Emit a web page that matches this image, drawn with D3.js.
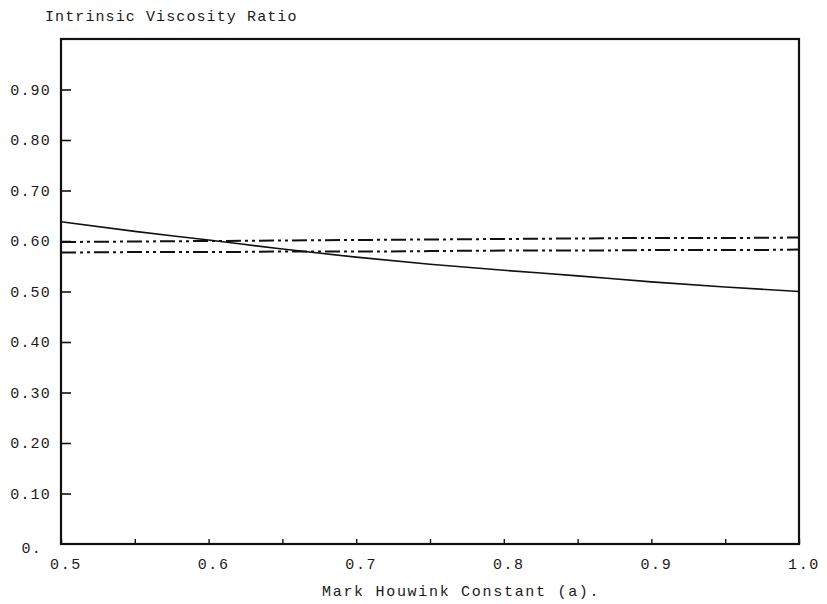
<!DOCTYPE html>
<html>
<head>
<meta charset="utf-8">
<script src="https://cdn.jsdelivr.net/npm/d3@7"></script>
<style>
  html, body { margin: 0; padding: 0; background: #fff; }
  svg { display: block; }
  text { font-family: "Liberation Mono", "DejaVu Sans Mono", monospace; fill: #1a1a1a; }
</style>
</head>
<body>
<svg id="chart" width="827" height="604"></svg>
<script>
// Mark-Houwink exponent values
const aValues = [0.50, 0.55, 0.60, 0.65, 0.70, 0.75, 0.80, 0.85, 0.90, 0.95, 1.00];
// Intrinsic viscosity ratio for each curve
const solidRatio   = [0.638, 0.619, 0.602, 0.584, 0.568, 0.554, 0.542, 0.531, 0.519, 0.509, 0.500];
const upperRatio   = [0.598, 0.599, 0.600, 0.601, 0.602, 0.603, 0.604, 0.605, 0.606, 0.606, 0.607];
const lowerRatio   = [0.577, 0.578, 0.578, 0.579, 0.579, 0.580, 0.581, 0.581, 0.582, 0.582, 0.583];
// Axis labels
const xTickValues = [0.5, 0.55, 0.6, 0.65, 0.7, 0.75, 0.8, 0.85, 0.9, 0.95, 1.0];
const xTickLabels = ["0.5", "0.6", "0.7", "0.8", "0.9", "1.0"];
const yTickValues = [0.1, 0.2, 0.3, 0.4, 0.5, 0.6, 0.7, 0.8, 0.9];
const yTickLabels = ["0.10", "0.20", "0.30", "0.40", "0.50", "0.60", "0.70", "0.80", "0.90"];

const svg = d3.select("#chart");
const plotLeft = 61, plotRight = 799, plotTop = 39, plotBottom = 544;

const x = d3.scaleLinear().domain([0.5, 1.0]).range([plotLeft, plotRight]);
const y = d3.scaleLinear().domain([0, 1.0]).range([plotBottom, plotTop]);

const series = [
  { values: solidRatio, dash: null, width: 1.6 },
  { values: upperRatio, dash: "15,4,3,4,3,4", width: 2 },
  { values: lowerRatio, dash: "15,4,3,4,3,4", width: 2 }
];

// Plot frame
svg.append("rect")
  .attr("x", plotLeft).attr("y", plotTop)
  .attr("width", plotRight - plotLeft).attr("height", plotBottom - plotTop)
  .attr("fill", "none").attr("stroke", "#111").attr("stroke-width", 2.2);

// Y axis: inward ticks
const yAxis = d3.axisRight(y).tickValues(yTickValues).tickSize(10).tickFormat("");
const yg = svg.append("g").attr("transform", `translate(${plotLeft},0)`).call(yAxis);
yg.select(".domain").remove();
yg.selectAll(".tick line").attr("stroke", "#111").attr("stroke-width", 1.6);

svg.append("g").selectAll("text")
  .data(yTickValues)
  .join("text")
  .attr("x", 51)
  .attr("y", d => y(d) + 5)
  .attr("text-anchor", "end")
  .style("font-size", "15px")
  .style("letter-spacing", "1.2px")
  .text((d, i) => yTickLabels[i]);

svg.append("text")
  .attr("x", 42).attr("y", 553)
  .attr("text-anchor", "end")
  .style("font-size", "15px")
  .style("letter-spacing", "1.2px")
  .text("0.");

// X axis: short inward ticks every 0.05
const xAxis = d3.axisTop(x).tickValues(xTickValues).tickSize(5).tickFormat("");
const xg = svg.append("g").attr("transform", `translate(0,${plotBottom})`).call(xAxis);
xg.select(".domain").remove();
xg.selectAll(".tick line").attr("stroke", "#111").attr("stroke-width", 1.4);

svg.append("g").selectAll("text")
  .data(xTickLabels)
  .join("text")
  .attr("x", d => x(+d) + 5)
  .attr("y", 569)
  .attr("text-anchor", "middle")
  .style("font-size", "15px")
  .style("letter-spacing", "1.6px")
  .text(d => d);

// Curves
const line = d3.line()
  .x((d, i) => x(aValues[i]))
  .y(d => y(d))
  .curve(d3.curveMonotoneX);

svg.append("g").selectAll("path")
  .data(series)
  .join("path")
  .attr("d", d => line(d.values))
  .attr("fill", "none")
  .attr("stroke", "#111")
  .attr("stroke-width", d => d.width)
  .attr("stroke-dasharray", d => d.dash);

// Titles
svg.append("text")
  .attr("x", 45).attr("y", 21)
  .style("font-size", "15px")
  .style("letter-spacing", "1.1px")
  .text("Intrinsic Viscosity Ratio");

svg.append("text")
  .attr("x", 322).attr("y", 596)
  .style("font-size", "15px")
  .style("letter-spacing", "1.7px")
  .text("Mark Houwink Constant (a).");
</script>
</body>
</html>
